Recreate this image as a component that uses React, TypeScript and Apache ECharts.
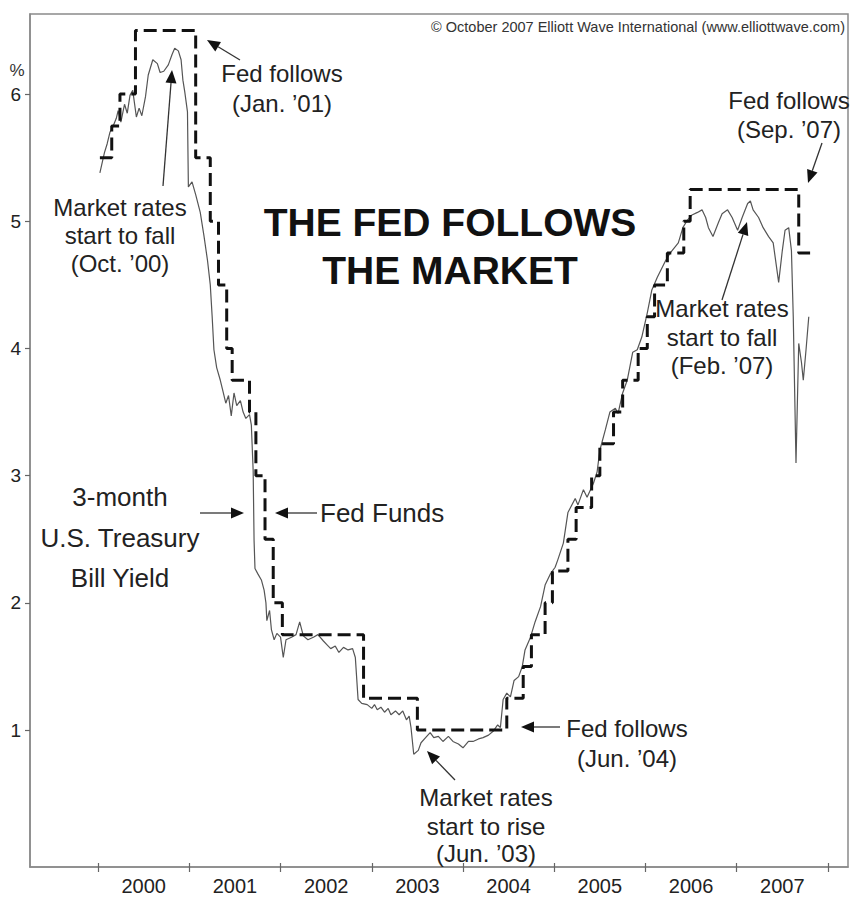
import React, { useEffect, useRef } from "react";
import * as echarts from "echarts";

// ---- data ----
const yearLabels = ["2000", "2001", "2002", "2003", "2004", "2005", "2006", "2007"];
const yearBoundaries = [2000, 2001, 2002, 2003, 2004, 2005, 2006, 2007, 2008];
const yearLabelPositions = [2000.5, 2001.5, 2002.5, 2003.5, 2004.5, 2005.5, 2006.5, 2007.5];
const yTickValues = [1, 2, 3, 4, 5, 6];

// Fed Funds target (step: each rate holds from its date to the next date)
const fedDates = [
  2000.02, 2000.15, 2000.24, 2000.41, 2001.07, 2001.23, 2001.32, 2001.41, 2001.47, 2001.66,
  2001.73, 2001.83, 2001.92, 2002.02, 2002.91, 2003.5, 2004.48, 2004.66, 2004.75, 2004.9,
  2004.98, 2005.15, 2005.24, 2005.41, 2005.5, 2005.65, 2005.75, 2005.92, 2006.02, 2006.1,
  2006.24, 2006.42, 2006.49, 2007.68, 2007.81,
];
const fedRates = [
  5.5, 5.75, 6.0, 6.5, 5.5, 5.0, 4.5, 4.0, 3.75, 3.5,
  3.0, 2.5, 2.0, 1.75, 1.25, 1.0, 1.25, 1.5, 1.75, 2.0,
  2.25, 2.5, 2.75, 3.0, 3.25, 3.5, 3.75, 4.0, 4.25, 4.5,
  4.75, 5.0, 5.25, 4.75, 4.75,
];

// 3-month U.S. Treasury Bill yield
const tbillDates = [
  2000.02, 2000.07, 2000.1, 2000.13, 2000.16, 2000.2, 2000.22, 2000.25, 2000.29, 2000.32,
  2000.35, 2000.38, 2000.42, 2000.45, 2000.48, 2000.52, 2000.55, 2000.6, 2000.65, 2000.68,
  2000.72, 2000.77, 2000.81, 2000.84, 2000.88, 2000.91, 2000.93, 2000.95, 2000.98, 2000.99,
  2001.03, 2001.07, 2001.12, 2001.16, 2001.2, 2001.23, 2001.25, 2001.27, 2001.3, 2001.34,
  2001.37, 2001.4, 2001.43, 2001.46, 2001.49, 2001.52, 2001.56, 2001.59, 2001.62, 2001.66,
  2001.68, 2001.7, 2001.71, 2001.72, 2001.75, 2001.79, 2001.82, 2001.84, 2001.85, 2001.88,
  2001.9, 2001.93, 2001.96, 2002.0, 2002.03, 2002.06, 2002.12, 2002.17, 2002.21, 2002.25,
  2002.3, 2002.36, 2002.41, 2002.47, 2002.51, 2002.55, 2002.6, 2002.64, 2002.69, 2002.74,
  2002.79, 2002.82, 2002.85, 2002.89, 2002.95, 2003.0, 2003.03, 2003.06, 2003.1, 2003.14,
  2003.18, 2003.21, 2003.26, 2003.3, 2003.34, 2003.38, 2003.41, 2003.43, 2003.46, 2003.51,
  2003.54, 2003.59, 2003.64, 2003.68, 2003.73, 2003.78, 2003.84, 2003.89, 2003.95, 2004.0,
  2004.06, 2004.11, 2004.17, 2004.22, 2004.28, 2004.33, 2004.38, 2004.41, 2004.44, 2004.48,
  2004.52, 2004.56, 2004.61, 2004.65, 2004.68, 2004.74, 2004.79, 2004.85, 2004.9, 2004.96,
  2005.01, 2005.04, 2005.1, 2005.15, 2005.23, 2005.26, 2005.32, 2005.36, 2005.43, 2005.47,
  2005.5, 2005.56, 2005.61, 2005.67, 2005.7, 2005.75, 2005.8, 2005.86, 2005.91, 2005.96,
  2006.02, 2006.07, 2006.13, 2006.22, 2006.27, 2006.36, 2006.41, 2006.46, 2006.51, 2006.57,
  2006.62, 2006.66, 2006.69, 2006.74, 2006.8, 2006.84, 2006.9, 2006.95, 2007.01, 2007.06,
  2007.12, 2007.15, 2007.18, 2007.24, 2007.29, 2007.35, 2007.4, 2007.46, 2007.5, 2007.53,
  2007.57, 2007.6, 2007.62, 2007.65, 2007.68, 2007.71, 2007.73, 2007.76, 2007.79,
];
const tbillYields = [
  5.38, 5.54, 5.61, 5.7, 5.74, 5.81, 5.87, 5.78, 5.92, 5.85,
  5.99, 6.03, 5.82, 5.89, 5.83, 5.98, 6.15, 6.27, 6.24, 6.17,
  6.18, 6.23, 6.31, 6.36, 6.34, 6.27, 6.11, 6.02, 5.86, 5.27,
  5.31, 5.21, 5.07, 4.89, 4.69, 4.5, 4.26, 3.99, 3.85, 3.75,
  3.66, 3.57, 3.63, 3.47, 3.65, 3.55, 3.59, 3.5, 3.45, 3.48,
  3.4, 3.04, 2.49, 2.27, 2.23, 2.18, 2.1, 2.0, 1.86, 1.94,
  1.79, 1.71, 1.76, 1.73, 1.57, 1.71, 1.73, 1.75, 1.85, 1.74,
  1.71, 1.73, 1.75, 1.7, 1.67, 1.64, 1.66, 1.61, 1.65, 1.63,
  1.64, 1.57, 1.24, 1.21, 1.2, 1.17, 1.2, 1.16, 1.18, 1.14,
  1.17, 1.12, 1.15, 1.12, 1.15, 1.08, 1.11, 1.02, 0.81, 0.84,
  0.9, 0.94, 0.98, 0.94, 0.95, 0.91, 0.95, 0.91, 0.89, 0.86,
  0.91, 0.91, 0.93, 0.94, 0.96, 0.99, 1.04, 1.02, 1.24, 1.29,
  1.26, 1.39, 1.42, 1.5, 1.63, 1.73, 1.85, 1.97, 2.14, 2.23,
  2.28, 2.34, 2.47, 2.71, 2.82, 2.77, 2.89, 2.83, 2.94, 3.03,
  3.2, 3.36, 3.5, 3.53, 3.49, 3.65, 3.75, 3.97, 3.99, 4.09,
  4.28, 4.46, 4.56, 4.69, 4.75, 4.83, 4.95, 5.01, 5.05, 5.07,
  5.09, 5.03, 4.95, 4.88, 4.99, 5.06, 5.09, 5.03, 4.93, 5.03,
  5.14, 5.16, 5.09, 5.03, 4.95, 4.88, 4.83, 4.52, 4.77, 4.93,
  4.95, 4.77, 4.25, 3.1, 4.04, 3.89, 3.75, 3.99, 4.25,
];

const FONT = "'Liberation Sans', Arial, Helvetica, sans-serif";

function arrow(x1: number, y1: number, x2: number, y2: number) {
  const head = 13;
  const halfW = 5.5;
  const dx = x2 - x1;
  const dy = y2 - y1;
  const L = Math.hypot(dx, dy);
  const ux = dx / L;
  const uy = dy / L;
  const bx = x2 - ux * head;
  const by = y2 - uy * head;
  const px = -uy;
  const py = ux;
  return [
    {
      type: "line",
      shape: { x1, y1, x2: bx, y2: by },
      style: { stroke: "#333", lineWidth: 1.3 },
      z: 10,
    },
    {
      type: "polygon",
      shape: {
        points: [
          [x2, y2],
          [bx + px * halfW, by + py * halfW],
          [bx - px * halfW, by - py * halfW],
        ],
      },
      style: { fill: "#111" },
      z: 10,
    },
  ];
}

function textLines(lines: string[], x: number, ys: number[], size: number, align = "center", weight = "normal", fill = "#222") {
  return lines.map((t, i) => ({
    type: "text",
    x,
    y: ys[i],
    z: 10,
    style: {
      text: t,
      fontSize: size,
      fontFamily: FONT,
      fontWeight: weight,
      fill,
      align,
      verticalAlign: "middle",
    },
  }));
}

export default function App() {
  const ref = useRef<HTMLDivElement>(null);

  useEffect(() => {
    if (!ref.current) return;
    const chart = echarts.init(ref.current, undefined, { renderer: "svg" });

    const fedData = fedDates.map((d, i) => [d, fedRates[i]]);
    const tbillData = tbillDates.map((d, i) => [d, tbillYields[i]]);

    const graphics: any[] = [
      // copyright
      ...textLines(["© October 2007 Elliott Wave International (www.elliottwave.com)"], 845, [27], 14.5, "right", "normal", "#333"),
      // percent sign
      ...textLines(["%"], 17, [70], 17, "center", "normal", "#333"),
      // title
      ...textLines(["THE FED FOLLOWS", "THE MARKET"], 450, [222, 270], 39, "center", "bold", "#111"),
      // Fed follows (Jan '01)
      ...textLines(["Fed follows", "(Jan. \u201901)"], 282, [73, 103], 24),
      ...arrow(240, 60, 207, 40),
      // Market rates start to fall (Oct '00)
      ...textLines(["Market rates", "start to fall", "(Oct. \u201900)"], 120, [207, 235, 263], 24),
      ...arrow(163, 186, 172, 70),
      // Fed follows (Sep '07)
      ...textLines(["Fed follows", "(Sep. \u201907)"], 789, [100, 129], 24),
      ...arrow(822, 143, 808, 183),
      // Market rates start to fall (Feb '07)
      ...textLines(["Market rates", "start to fall", "(Feb. \u201907)"], 722, [308, 337, 365], 24),
      ...arrow(722, 300, 747, 222),
      // 3-month T-bill
      ...textLines(["3-month", "U.S. Treasury", "Bill Yield"], 120, [497, 538, 578], 26),
      ...arrow(200, 513, 244, 513),
      // Fed Funds
      ...textLines(["Fed Funds"], 320, [513], 26, "left"),
      ...arrow(317, 513, 275, 513),
      // Fed follows (Jun '04)
      ...textLines(["Fed follows", "(Jun. \u201904)"], 627, [728, 758], 24),
      ...arrow(560, 727, 521, 727),
      // Market rates start to rise (Jun '03)
      ...textLines(["Market rates", "start to rise", "(Jun. \u201903)"], 486, [797, 826, 853], 24),
      ...arrow(455, 780, 427, 751),
    ];

    chart.setOption({
      animation: false,
      backgroundColor: "#ffffff",
      grid: {
        left: 30,
        right: 3,
        top: 14,
        bottom: 31,
        show: true,
        borderColor: "#8a8a8a",
        borderWidth: 1.5,
        backgroundColor: "transparent",
      },
      xAxis: [
        {
          type: "value",
          min: 1999.254,
          max: 2008.22,
          axisLine: { show: true, onZero: false, lineStyle: { color: "#8a8a8a", width: 1.5 } },
          axisTick: {
            show: true,
            inside: false,
            length: 5,
            customValues: yearBoundaries,
            lineStyle: { color: "#666", width: 1.2 },
          },
          axisLabel: {
            show: true,
            customValues: yearLabelPositions,
            formatter: (v: number) => yearLabels[Math.round(v - 2000.5)] ?? "",
            fontSize: 20,
            fontFamily: FONT,
            color: "#222",
            margin: 9,
          },
          splitLine: { show: false },
        },
        {
          type: "value",
          min: 1999.254,
          max: 2008.22,
          position: "bottom",
          axisLine: { show: false, onZero: false },
          axisTick: {
            show: true,
            inside: true,
            length: 4,
            customValues: yearBoundaries,
            lineStyle: { color: "#666", width: 1.2 },
          },
          axisLabel: { show: false },
          splitLine: { show: false },
        },
      ],
      yAxis: {
        type: "value",
        min: -0.077,
        max: 6.63,
        axisLine: { show: true, onZero: false, lineStyle: { color: "#8a8a8a", width: 1.5 } },
        axisTick: {
          show: true,
          inside: false,
          length: 5,
          customValues: yTickValues,
          lineStyle: { color: "#666", width: 1.2 },
        },
        axisLabel: {
          show: true,
          customValues: yTickValues,
          fontSize: 19,
          fontFamily: FONT,
          color: "#222",
          margin: 9,
        },
        splitLine: { show: false },
      },
      series: [
        {
          name: "3-month U.S. Treasury Bill Yield",
          type: "line",
          data: tbillData,
          showSymbol: false,
          symbol: "none",
          lineStyle: { color: "#555", width: 1.2 },
          z: 2,
        },
        {
          name: "Fed Funds",
          type: "line",
          step: "end",
          data: fedData,
          showSymbol: false,
          symbol: "none",
          lineStyle: { color: "#111", width: 3, type: [13, 6] },
          z: 3,
        },
      ],
      graphic: graphics,
    });

    return () => {
      chart.dispose();
    };
  }, []);

  return (
    <div
      ref={ref}
      style={{ position: "absolute", left: 0, top: 0, width: 851, height: 898, background: "#fff" }}
    />
  );
}
